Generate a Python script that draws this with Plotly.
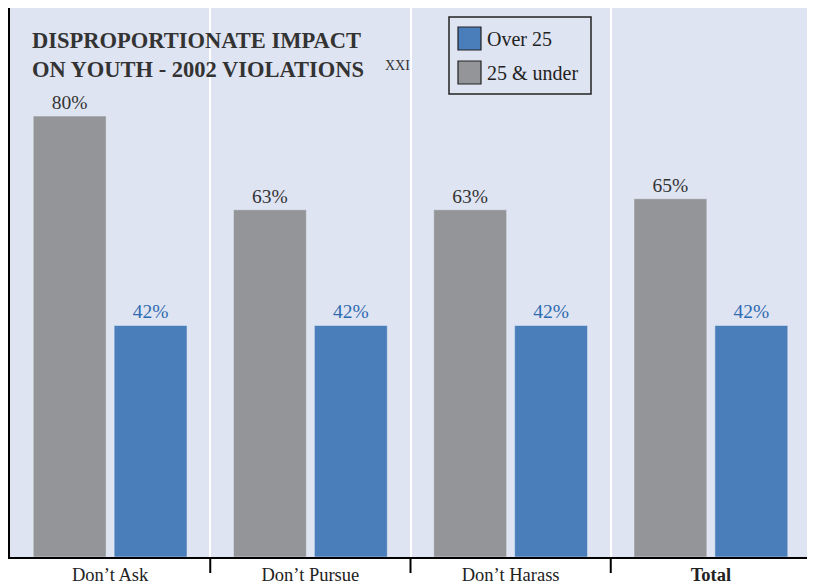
import plotly.graph_objects as go

categories = ["Don’t Ask", "Don’t Pursue", "Don’t Harass", "<b>Total</b>"]
under_25 = [80, 63, 63, 65]
over_25 = [42, 42, 42, 42]

GRAY = "#939598"
BLUE = "#4a7ebb"
BG = "#dfe4f2"
SERIF = "Liberation Serif"

# the page puts the figure 8px in from the top-left corner
OFF = 8
W, H = 815 - OFF, 585 - OFF
L, R, T, B = 2, 3, 0, 28
pw, ph = W - L - R, H - T - B


def px_x(x):
    # reference-page pixel -> paper
    return (x - OFF - L) / pw


def px_y(y):
    return 1 - (y - OFF - T) / ph


fig = go.Figure()
fig.add_trace(go.Bar(
    x=categories, y=under_25, name="25 & under",
    marker=dict(color=GRAY),
    text=[f"{v}%" for v in under_25], textposition="outside",
    textfont=dict(family=SERIF, size=19.5, color="#333333"),
    cliponaxis=False, showlegend=False,
))
fig.add_trace(go.Bar(
    x=categories, y=over_25, name="Over 25",
    marker=dict(color=BLUE),
    text=[f"{v}%" for v in over_25], textposition="outside",
    textfont=dict(family=SERIF, size=19.5, color="#2f6bb0"),
    cliponaxis=False, showlegend=False,
))

fig.update_layout(
    width=W, height=H,
    margin=dict(l=L, r=R, t=T, b=B, autoexpand=False),
    paper_bgcolor="white",
    plot_bgcolor=BG,
    barmode="group",
    bargap=0.192,
    bargroupgap=0.099,
    font=dict(family=SERIF, color="#222222"),
    showlegend=False,
)
fig.update_xaxes(
    automargin=False,
    tickson="boundaries",
    showgrid=True, gridcolor="white", gridwidth=1.5,
    showline=True, linecolor="black", linewidth=2,
    ticks="",
    tickfont=dict(family=SERIF, size=18.5, color="#222222"),
)
fig.update_yaxes(
    automargin=False,
    range=[0, 99.6], showgrid=False, zeroline=False,
    showticklabels=False, ticks="",
    showline=True, linecolor="black", linewidth=3,
)

# category boundary ticks below the axis
for i in range(len(categories)):
    fig.add_shape(type="line", xref="x", yref="paper",
                  x0=i + 0.5, x1=i + 0.5, y0=0, y1=-16 / ph,
                  line=dict(color="black", width=2))

# title
fig.add_annotation(
    xref="paper", yref="paper", x=px_x(30), y=px_y(26),
    xanchor="left", yanchor="top", align="left", showarrow=False,
    text="<b>DISPROPORTIONATE IMPACT<br>ON YOUTH - 2002 VIOLATIONS</b>",
    font=dict(family=SERIF, size=22.5, color="#333333"),
)
fig.add_annotation(
    xref="paper", yref="paper", x=px_x(383), y=px_y(65),
    xanchor="left", yanchor="middle", showarrow=False,
    text="XXI", font=dict(family=SERIF, size=14, color="#333333"),
)

# legend box
fig.add_shape(type="rect", xref="paper", yref="paper",
              x0=px_x(449), x1=px_x(591), y0=px_y(94), y1=px_y(17),
              line=dict(color="#222222", width=1.5), fillcolor=BG)
for name, color, top in [("Over 25", BLUE, 27), ("25 & under", GRAY, 61)]:
    fig.add_shape(type="rect", xref="paper", yref="paper",
                  x0=px_x(458), x1=px_x(481), y0=px_y(top + 23), y1=px_y(top),
                  line=dict(color="#222222", width=1.2), fillcolor=color)
    fig.add_annotation(
        xref="paper", yref="paper", x=px_x(485), y=px_y(top + 12),
        xanchor="left", yanchor="middle", showarrow=False,
        text=name, font=dict(family=SERIF, size=20, color="#222222"),
    )

fig.write_html("out.html")
